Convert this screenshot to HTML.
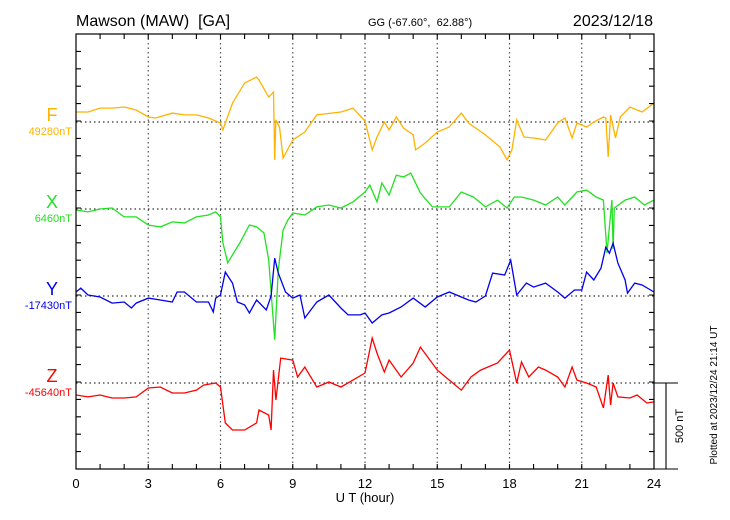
<!DOCTYPE html>
<html><head><meta charset="utf-8"><style>
html,body{margin:0;padding:0;background:#fff;}
svg{display:block;font-family:"Liberation Sans",sans-serif;}
text{white-space:pre;}
</style></head><body>
<svg id="c" width="730" height="520" viewBox="0 0 730 520">
<text x="76" y="26" font-size="16">Mawson (MAW)&#160; [GA]</text>
<text x="368" y="26" font-size="11">GG (-67.60°,&#160; 62.88°)</text>
<text x="653" y="26" font-size="16" text-anchor="end">2023/12/18</text>
<text x="365" y="502" font-size="13" text-anchor="middle">U T (hour)</text>
<text transform="translate(717,395) rotate(-90)" font-size="10" text-anchor="middle">Plotted at 2023/12/24 21:14 UT</text>
<text transform="translate(683,426) rotate(-90)" font-size="11" text-anchor="middle">500 nT</text>
<g id="grid"></g><g id="series"></g><g id="axes"></g>
</svg>
<script>
const hourTicks=[0,3,6,9,12,15,18,21,24];
const compNames=["F","X","Y","Z"];
const compBase=["49280nT","6460nT","-17430nT","-45640nT"];
const compColors=["#ffb300","#22e022","#0000ee","#ff0000"];
const fT=[0,0.5,1,1.5,2,2.5,3,3.3,4,4.5,5,5.5,6,6.1,6.5,7,7.5,7.6,8,8.2,8.25,8.3,8.45,8.6,9,9.5,10,11,11.5,12,12.3,12.5,12.8,13,13.3,13.6,14,14.1,14.5,15,15.5,16,16.3,17,17.6,17.9,18.1,18.3,18.6,19,19.5,20,20.3,20.6,20.8,21.2,21.5,21.9,22,22.1,22.2,22.4,22.6,23,23.5,24];
const fV=[58,58,81,81,87,70,29,23,52,41,41,23,-6,-46,110,226,261,244,145,174,-220,12,-29,-209,-104,-58,41,58,81,6,-162,-87,0,-46,29,-35,-75,-162,-122,-58,-29,52,-6,-75,-145,-220,-162,12,-87,-93,-104,-6,23,-93,-6,-29,0,29,23,-203,41,-93,29,87,58,110];
const xT=[0,0.5,1,1.5,2,2.5,3,3.5,4,4.5,5,5.5,5.8,6,6.1,6.3,6.8,7.2,7.5,7.8,8,8.25,8.4,8.6,8.8,9,9.5,10,10.5,11,11.5,12,12.2,12.5,12.7,13,13.3,13.6,13.9,14.3,14.8,15,15.5,16,16.5,17,17.5,17.9,18.2,18.5,19,19.5,20,20.3,20.8,21.2,21.6,21.9,22.05,22.25,22.3,22.35,22.8,23.2,23.6,24];
const xV=[-6,-17,0,6,-46,-46,-93,-104,-75,-81,-46,-35,-17,-46,-197,-313,-197,-93,-104,-139,-296,-760,-354,-122,-64,-23,-35,12,23,6,41,99,139,41,151,81,197,186,209,93,12,12,12,99,70,12,52,6,70,70,52,23,70,23,99,110,70,52,-255,52,-232,6,52,70,23,52];
const yT=[0,0.2,0.5,1,1.5,2,2.3,2.5,3,3.5,4,4.2,4.5,5,5.5,5.7,5.8,6,6.2,6.5,6.7,7,7.2,7.5,7.9,8.1,8.25,8.4,8.7,9,9.3,9.5,10,10.5,11,11.3,11.8,12,12.3,12.7,13,13.5,14,14.5,15,15.5,16,16.3,16.6,17,17.3,17.8,18.05,18.3,18.7,19,19.5,20,20.3,20.7,21,21.2,21.5,21.8,22,22.15,22.3,22.5,22.8,22.9,23.2,23.5,24];
const yV=[23,46,6,-6,-41,-35,-70,-41,-12,-23,-35,23,23,-35,-35,-93,-12,6,139,75,-35,-52,-99,-23,-81,0,220,133,23,-12,6,-128,-35,6,-70,-110,-110,-99,-157,-110,-99,-64,-12,-64,-6,23,-6,-23,-35,0,133,122,209,6,75,52,75,23,-12,35,35,139,93,162,284,249,307,191,93,17,75,64,23];
const zT=[0,0.5,1,1.5,2,2.5,3,3.5,4,4.5,5,5.3,5.8,6,6.2,6.5,7,7.5,7.6,8,8.1,8.2,8.3,8.5,9,9.2,9.5,10,10.5,11,11.5,12,12.3,12.5,12.8,13,13.5,14,14.3,15,15.5,16,16.4,16.8,17.5,18,18.3,18.5,18.8,19.2,19.5,20,20.3,20.6,20.8,21.2,21.6,21.9,22.1,22.2,22.3,22.5,23,23.3,23.7,24];
const zV=[-70,-81,-70,-87,-87,-81,-29,-23,-58,-58,-41,-12,0,-23,-232,-273,-273,-232,-157,-186,-273,75,-99,145,133,35,93,-23,6,-23,17,58,261,174,64,133,35,116,209,75,17,-41,35,75,116,191,0,122,35,93,75,35,-23,93,17,0,-23,-145,46,-128,0,-81,-87,-70,-116,-110];

const L=76,R=654,T=34,B=469;
const bases=[122,209,296,383];
const nTperPx=500/86;
const xs=h=>L+h*(R-L)/24;
const NS="http://www.w3.org/2000/svg";
function mk(tag,attrs,parent){const e=document.createElementNS(NS,tag);for(const k in attrs)e.setAttribute(k,attrs[k]);parent.appendChild(e);return e;}
const grid=document.getElementById('grid'),ser=document.getElementById('series'),ax=document.getElementById('axes');
hourTicks.forEach(h=>{if(h>0&&h<24){const g=mk('line',{x1:xs(h),x2:xs(h),y1:T,y2:B,stroke:'#555','stroke-width':1.2,'stroke-dasharray':'1.5,3'},grid);

}
const t=mk('text',{x:xs(h),y:488,'font-size':13,'text-anchor':'middle'},ax);t.textContent=h;

});
bases.forEach((b,i)=>{const g=mk('line',{x1:L,x2:R,y1:b,y2:b,stroke:'#333','stroke-width':1.2,'stroke-dasharray':'1.5,3'},grid);


const t=mk('text',{x:52,y:b-1,'font-size':18,fill:compColors[i],'text-anchor':'middle'},ax);t.textContent=compNames[i];


const t2=mk('text',{x:72,y:b+13,'font-size':11,fill:compColors[i],'text-anchor':'end'},ax);t2.textContent=compBase[i];

});
const seriesT=[fT,xT,yT,zT],seriesV=[fV,xV,yV,zV];
seriesT.forEach((tt,i)=>{const pts=tt.map((h,j)=>xs(h).toFixed(1)+','+(bases[i]-seriesV[i][j]/nTperPx).toFixed(1)).join(' ');
const p=mk('polyline',{points:pts,fill:'none',stroke:compColors[i],'stroke-width':1.3},ser);

});
const fr=mk('rect',{x:L,y:T,width:R-L,height:B-T,fill:'none',stroke:'#000','stroke-width':1.2},ax);


let d='';
for(let h=1;h<24;h++){d+=`M${xs(h)},${T}v5M${xs(h)},${B}v-5`;}
for(let y=T+17.4;y<B-1;y+=17.4){d+=`M${L},${y}h5M${R},${y}h-5`;}
d+=`M${R},383H678M${R},${B}H678M666,383V${B}`;
const tk=mk('path',{d:d,stroke:'#000','stroke-width':1.1,fill:'none'},ax);


</script>
</body></html>
